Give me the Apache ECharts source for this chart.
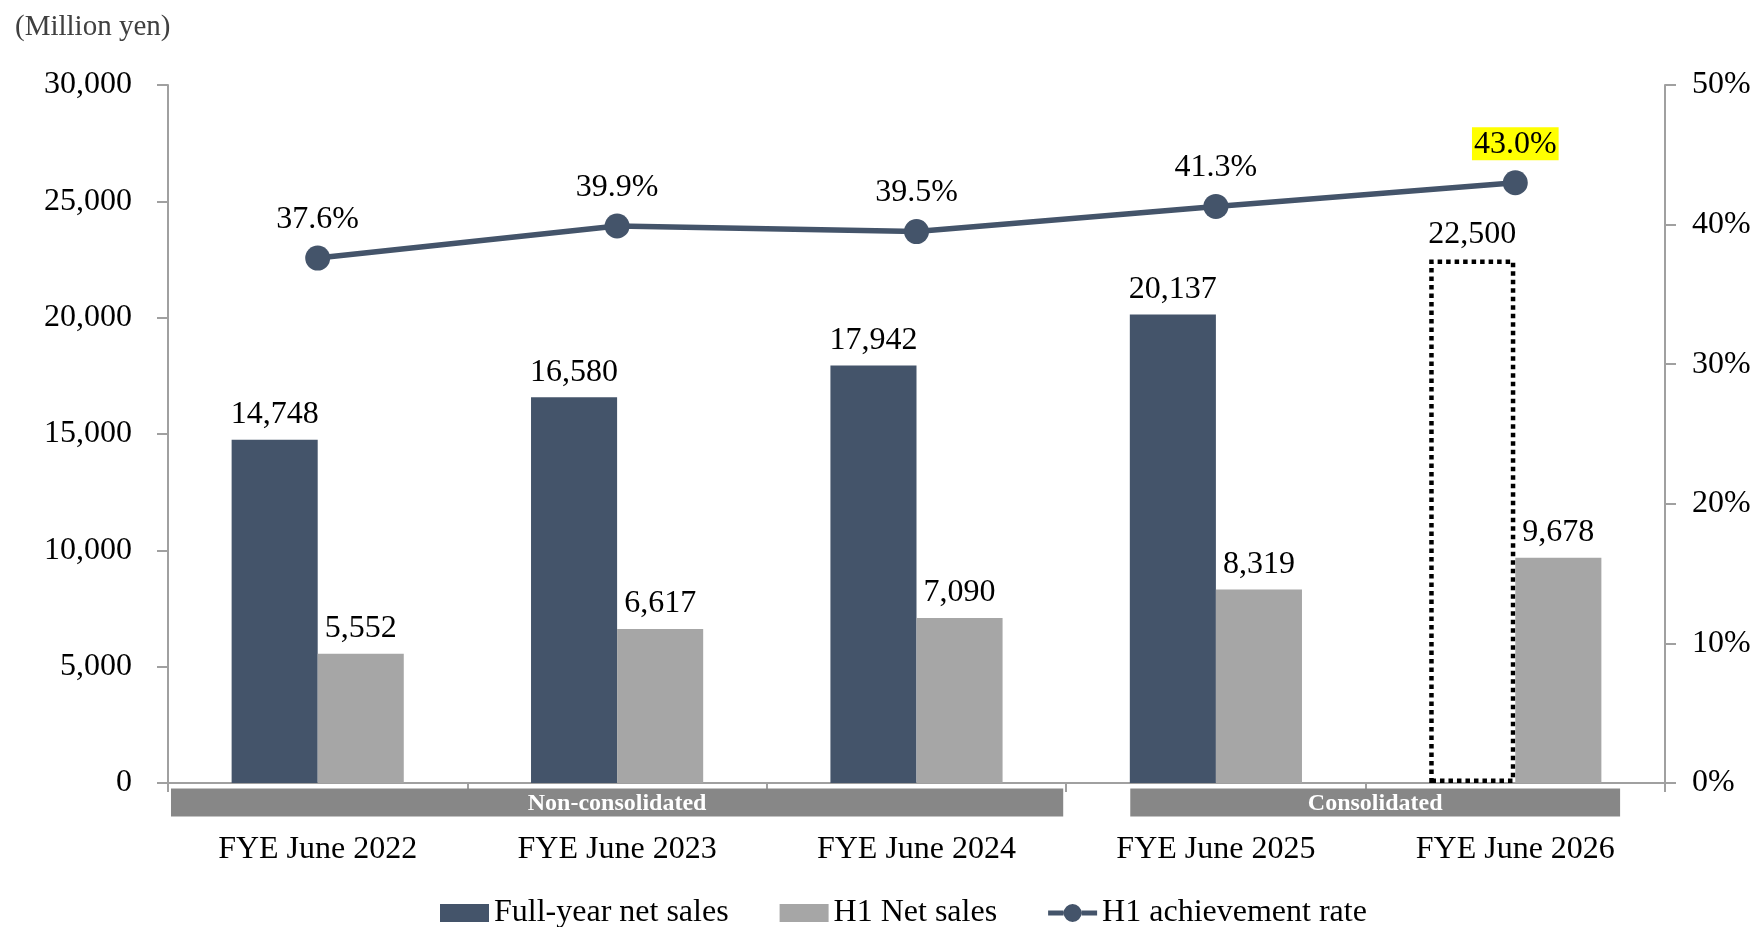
<!DOCTYPE html>
<html><head><meta charset="utf-8">
<script src="https://cdn.jsdelivr.net/npm/echarts@6/dist/echarts.min.js"></script>
<style>html,body{margin:0;padding:0;background:#fff}#c{width:1756px;height:927px}</style>
</head><body><div id="c"></div>
<script>
// ---- data ----
const categories = ['FYE June 2022', 'FYE June 2023', 'FYE June 2024', 'FYE June 2025', 'FYE June 2026'];
const fullYearSales = [14748, 16580, 17942, 20137, 22500];
const h1Sales = [5552, 6617, 7090, 8319, 9678];
const h1Rate = [37.6, 39.9, 39.5, 41.3, 43.0];
const forecastIndex = 4;          // FYE June 2026 full-year value is a forecast
const segmentRanges = [[0, 2], [3, 4]];
const segmentLabels = ['Non-consolidated', 'Consolidated'];
const seriesNames = ['Full-year net sales', 'H1 Net sales', 'H1 achievement rate'];
const unitLabel = '(Million yen)';

// ---- style ----
const FONT = '"Liberation Serif", "Times New Roman", serif';
const DARK = '#44546A', GRAY = '#A6A6A6', BAND = '#878787', AXIS = '#A0A0A0';
const FS = 32;
const segmentInsets = [[0.01, 0.01], [0.214, 0.15]];
const LINE_ICON = 'path://M0,6.5 L15.5,6.5 L15.5,11.5 L0,11.5 Z M33.5,6.5 L49,6.5 L49,11.5 L33.5,11.5 Z M15.5,9 A9,9 0 1,1 33.5,9 A9,9 0 1,1 15.5,9 Z';

const chart = echarts.init(document.getElementById('c'), null, {renderer: 'canvas'});

const fmt = v => v.toLocaleString('en-US');

const darkData = fullYearSales.map((v, i) => i === forecastIndex ? {
  value: v,
  itemStyle: {color: 'rgba(0,0,0,0)', borderColor: '#000', borderWidth: 4.5, borderType: [4.5, 4]}
} : v);

const rateData = h1Rate.map((v, i) => i === h1Rate.length - 1 ? {
  value: v,
  label: {backgroundColor: '#FFFF00', padding: [1, 2, 0, 2]}
} : v);

chart.setOption({
  animation: false,
  backgroundColor: '#fff',
  textStyle: {fontFamily: FONT},
  title: {
    text: unitLabel, left: 10, top: 8,
    textStyle: {fontFamily: FONT, fontSize: 29, fontWeight: 'normal', color: '#404040'}
  },
  grid: {left: 168, right: 91, top: 85, bottom: 144, containLabel: false},
  legend: {
    data: [
      {name: seriesNames[0], icon: 'rect'},
      {name: seriesNames[1], icon: 'rect'},
      {name: seriesNames[2], icon: LINE_ICON}
    ],
    left: 440, top: 897, padding: 0,
    itemWidth: 49, itemHeight: 18, itemGap: 51,
    textStyle: {fontFamily: FONT, fontSize: FS, color: '#000'}
  },
  xAxis: {
    type: 'category', data: categories,
    axisLine: {lineStyle: {color: AXIS, width: 2}},
    axisTick: {show: true, length: 9, lineStyle: {color: AXIS, width: 2}},
    axisLabel: {margin: 51, fontFamily: FONT, fontSize: FS, color: '#000'}
  },
  yAxis: [{
    type: 'value', min: 0, max: 30000, interval: 5000,
    axisLine: {show: true, lineStyle: {color: AXIS, width: 2}},
    axisTick: {show: true, length: 11, lineStyle: {color: AXIS, width: 2}},
    splitLine: {show: false},
    axisLabel: {margin: 36, fontFamily: FONT, fontSize: FS, color: '#000', formatter: v => fmt(v)}
  }, {
    type: 'value', min: 0, max: 50, interval: 10,
    axisLine: {show: true, lineStyle: {color: AXIS, width: 2}},
    axisTick: {show: true, length: 11, lineStyle: {color: AXIS, width: 2}},
    splitLine: {show: false},
    axisLabel: {margin: 27, fontFamily: FONT, fontSize: FS, color: '#000', formatter: '{value}%'}
  }],
  series: [{
    name: seriesNames[0], type: 'bar', data: darkData,
    barGap: '0%', barCategoryGap: '42.5%',
    itemStyle: {color: DARK},
    label: {show: true, position: 'top', distance: 9, fontFamily: FONT, fontSize: FS, color: '#000',
      formatter: p => fmt(p.value)}
  }, {
    name: seriesNames[1], type: 'bar', data: h1Sales,
    itemStyle: {color: GRAY},
    label: {show: true, position: 'top', distance: 9, fontFamily: FONT, fontSize: FS, color: '#000',
      formatter: p => fmt(p.value)}
  }, {
    name: seriesNames[2], type: 'line', yAxisIndex: 1, data: rateData,
    symbol: 'circle', symbolSize: 25,
    itemStyle: {color: DARK},
    lineStyle: {color: DARK, width: 5.5},
    z: 5,
    label: {show: true, position: 'top', distance: 10, fontFamily: FONT, fontSize: FS, color: '#000',
      formatter: p => p.value.toFixed(1) + '%'}
  }, {
    name: 'segments', type: 'custom', clip: false, silent: true, z: 1,
    data: segmentRanges,
    encode: {x: [0, 1], y: -1},
    renderItem: function (params, api) {
      const s = api.value(0), e = api.value(1);
      const w = api.size([1, 0])[0];
      const ins = segmentInsets[params.dataIndex];
      const p0 = api.coord([s, 0]);
      const p1 = api.coord([e, 0]);
      const x0 = p0[0] - w / 2 + ins[0] * w;
      const x1 = p1[0] + w / 2 - ins[1] * w;
      const y0 = p0[1] + 5.5;
      const h = 28;
      return {
        type: 'group',
        children: [{
          type: 'rect', shape: {x: x0, y: y0, width: x1 - x0, height: h},
          style: {fill: BAND}
        }, {
          type: 'text',
          style: {text: segmentLabels[params.dataIndex], x: (x0 + x1) / 2, y: y0 + h / 2 + 1,
            align: 'center', verticalAlign: 'middle', fill: '#fff',
            font: 'bold 24px ' + FONT}
        }]
      };
    }
  }]
});
</script>
</body></html>
